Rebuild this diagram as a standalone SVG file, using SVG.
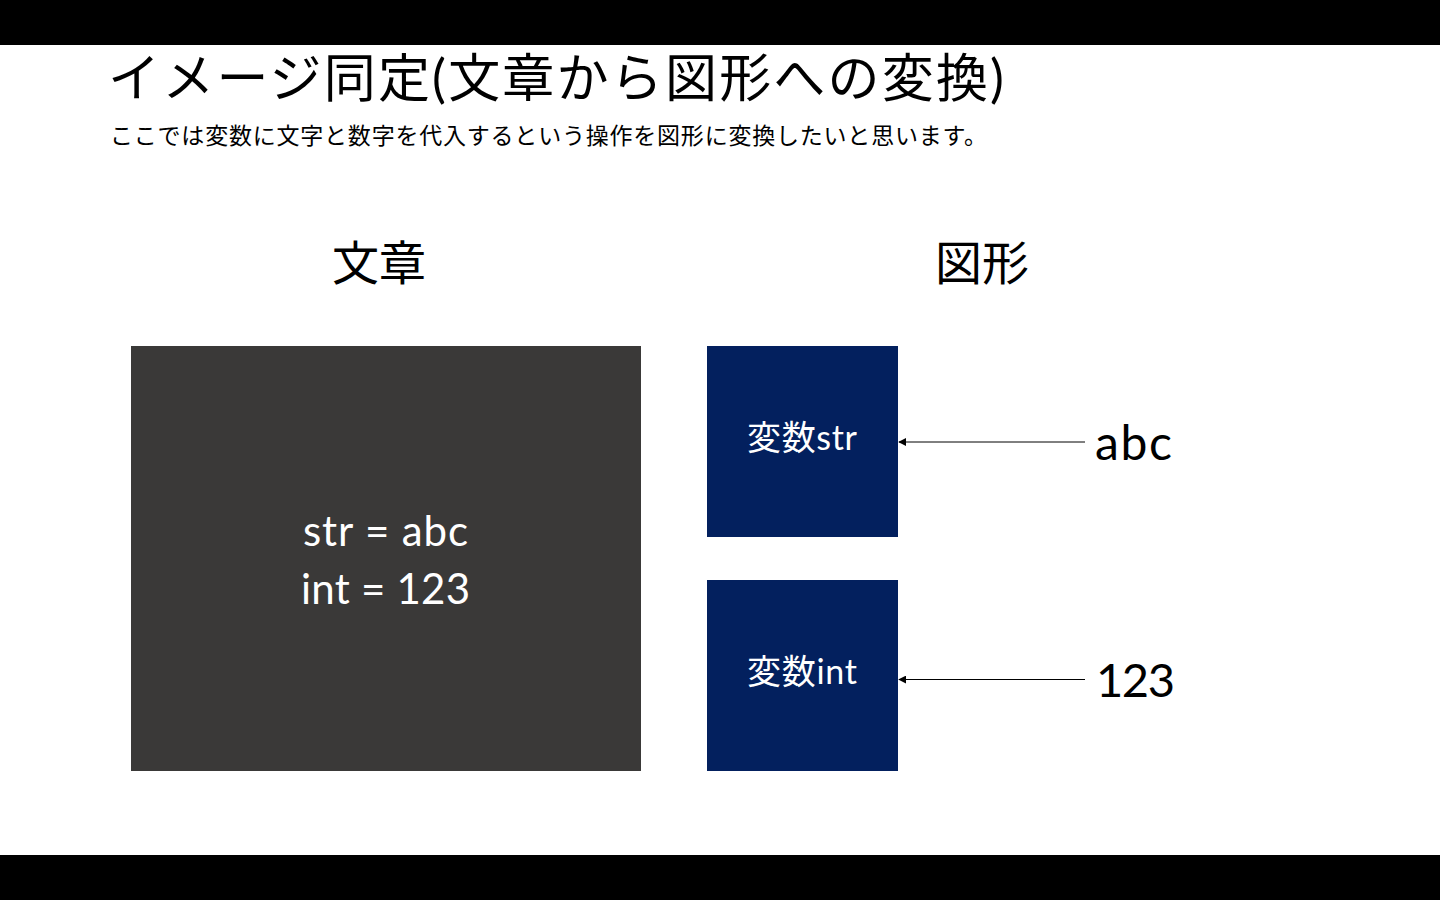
<svg xmlns="http://www.w3.org/2000/svg" width="1440" height="900" viewBox="0 0 1440 900">
<defs>
<style>
text{font-family:Lato,"Noto Sans CJK JP",sans-serif;}
.w{fill:#ffffff;}
.k{fill:#000000;}
.var{fill:#03205E;}
.conn{stroke:#000;stroke-width:1;fill:none;marker-end:url(#ah);}
</style>
<marker id="ah" viewBox="0 0 10 10" refX="9" refY="5" markerWidth="8" markerHeight="8" markerUnits="userSpaceOnUse" orient="auto">
<path d="M0,0 L10,5 L0,10 z" fill="#000"/>
</marker>
</defs>
<rect x="0" y="0" width="1440" height="900" fill="#ffffff"/>
<rect x="0" y="0" width="1440" height="45" fill="#000"/>
<rect x="0" y="855" width="1440" height="45" fill="#000"/>
<g id="title">
<text x="108" y="97" font-size="52" class="k" textLength="896">イメージ同定(文章から図形への変換)</text>
<text x="110" y="144" font-size="23" class="k" textLength="877">ここでは変数に文字と数字を代入するという操作を図形に変換したいと思います。</text>
</g>
<g id="head-text"><text x="332" y="280" font-size="47" class="k" textLength="94">文章</text></g>
<g id="head-fig"><text x="935" y="280" font-size="47" class="k" textLength="94">図形</text></g>
<g id="code">
<rect x="131" y="346" width="510" height="425" fill="#3A3938"/>
<text x="303" y="546" font-size="42" class="w" textLength="165">str = abc</text>
<text x="301" y="604" font-size="42" class="w" textLength="169">int = 123</text>
</g>
<g id="var-str">
<rect x="707" y="346" width="191" height="191" class="var"/>
<text x="747" y="450" font-size="34" class="w" textLength="110">変数str</text>
</g>
<g id="var-int">
<rect x="707" y="580" width="191" height="191" class="var"/>
<text x="747" y="684" font-size="34" class="w" textLength="110">変数int</text>
</g>
<g id="val-abc"><text x="1095" y="460" font-size="48" class="k" textLength="77">abc</text></g>
<g id="val-123"><text x="1096" y="697" font-size="47" class="k" textLength="79">123</text></g>
<g id="connectors">
<line x1="1085" y1="442" x2="899" y2="442" class="conn"/>
<line x1="1085" y1="679.5" x2="899" y2="679.5" class="conn"/>
</g>
</svg>
